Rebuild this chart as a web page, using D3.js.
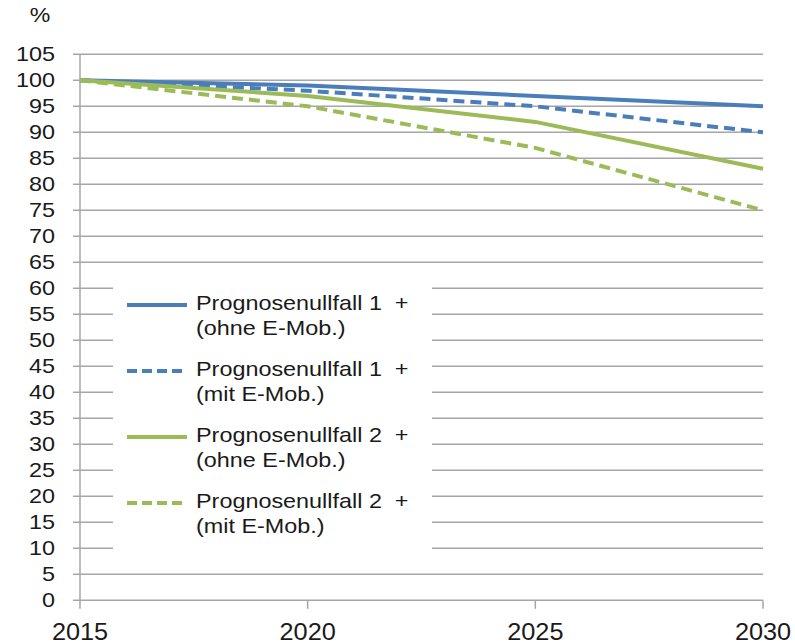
<!DOCTYPE html>
<html>
<head>
<meta charset="utf-8">
<script src="https://cdn.jsdelivr.net/npm/d3@7"></script>
<style>
  html, body { margin: 0; padding: 0; background: #fff; }
  svg text { font-family: "Liberation Sans", Arial, sans-serif; fill: #1a1a1a; white-space: pre; }
</style>
</head>
<body>
<svg id="chart" width="795" height="643"></svg>
<script>
const years = [2015, 2020, 2025, 2030];
const yTicks = d3.range(0, 106, 5);
const seriesNames = [
  ["Prognosenullfall 1  +", "(ohne E-Mob.)"],
  ["Prognosenullfall 1  +", "(mit E-Mob.)"],
  ["Prognosenullfall 2  +", "(ohne E-Mob.)"],
  ["Prognosenullfall 2  +", "(mit E-Mob.)"]
];
const pn1Ohne = [100, 99, 97, 95];
const pn1Mit  = [100, 98, 95, 90];
const pn2Ohne = [100, 97, 92, 83];
const pn2Mit  = [100, 95, 87, 75];
const seriesValues = [pn1Ohne, pn1Mit, pn2Ohne, pn2Mit];
const seriesColors = ["#4a7ebb", "#4a7ebb", "#9bbb59", "#9bbb59"];
const seriesDashed = [false, true, false, true];

const svg = d3.select("#chart");
const x = d3.scaleLinear().domain([2015, 2030]).range([80, 763]);
const y = d3.scaleLinear().domain([0, 105]).range([600.3, 54.3]);
const grid = "#a6a6a6";

function sText(g, px, py, str, size, sx, anchor) {
  return g.append("text")
    .attr("transform", `translate(${px},${py}) scale(${sx},1)`)
    .attr("text-anchor", anchor)
    .attr("font-size", size)
    .text(str);
}

// gridlines
svg.append("g").selectAll("line").data(yTicks).join("line")
  .attr("x1", 73).attr("x2", x(2030))
  .attr("y1", d => y(d)).attr("y2", d => y(d))
  .attr("stroke", grid).attr("stroke-width", 1.5);

// y axis line
svg.append("line").attr("x1", x(2015)).attr("x2", x(2015))
  .attr("y1", y(105)).attr("y2", y(0) + 8.5)
  .attr("stroke", grid).attr("stroke-width", 1.5);

// x ticks
svg.append("g").selectAll("line").data(years.slice(1)).join("line")
  .attr("x1", d => x(d)).attr("x2", d => x(d))
  .attr("y1", y(0)).attr("y2", y(0) + 8.5)
  .attr("stroke", grid).attr("stroke-width", 1.5);

// y labels
const yl = svg.append("g");
yTicks.forEach(t => sText(yl, 55, y(t) + 7, String(t), 20, 1.17, "end"));
sText(svg, 40, 22, "%", 21, 1.1, "middle");

// x labels
const xl = svg.append("g");
years.forEach(t => sText(xl, x(t), 639.5, String(t), 23, 1.1, "middle"));

// series lines
const line = d3.line().x((d, i) => x(years[i])).y(d => y(d));
seriesValues.forEach((vals, i) => {
  svg.append("path").datum(vals)
    .attr("d", line)
    .attr("fill", "none")
    .attr("stroke", seriesColors[i])
    .attr("stroke-width", 4)
    .attr("stroke-dasharray", seriesDashed[i] ? "11,6" : null);
});

// legend
const lg = svg.append("g");
lg.append("rect").attr("x", 113).attr("y", 272).attr("width", 319).attr("height", 288).attr("fill", "#fff");
seriesNames.forEach((nm, i) => {
  const ly = 305 + i * 66;
  lg.append("line").attr("x1", 127).attr("x2", 187).attr("y1", ly).attr("y2", ly)
    .attr("stroke", seriesColors[i]).attr("stroke-width", 4)
    .attr("stroke-dasharray", seriesDashed[i] ? "10,5" : null);
  sText(lg, 196, ly + 4.5, nm[0], 20, 1.17, "start");
  sText(lg, 196, ly + 29.5, nm[1], 20, 1.17, "start");
});
</script>
</body>
</html>
